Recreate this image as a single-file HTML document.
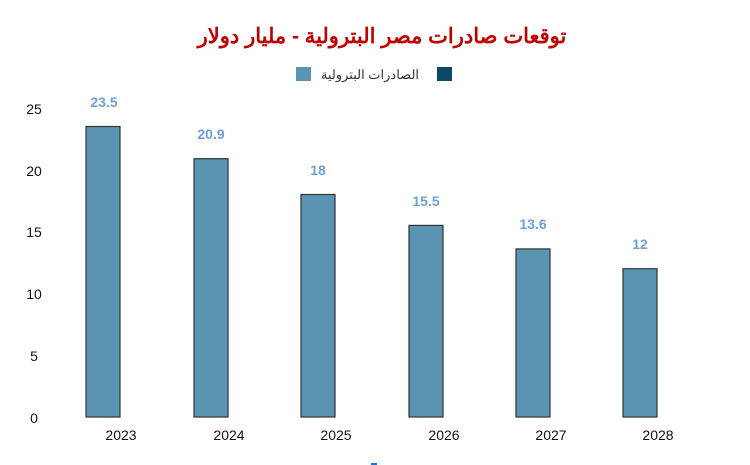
<!DOCTYPE html>
<html><head><meta charset="utf-8"><style>
html,body{margin:0;padding:0;background:#fff;width:750px;height:465px;overflow:hidden}
svg{display:block}
text{font-family:"Liberation Sans","Noto Sans CJK SC",sans-serif}
</style></head><body>
<svg width="750" height="465" viewBox="0 0 750 465" xmlns="http://www.w3.org/2000/svg">
<text x="382" y="43" text-anchor="middle" font-size="21" font-weight="bold" fill="#c00000">توقعات صادرات مصر البترولية - مليار دولار</text>
<rect x="296" y="67" width="15" height="14" fill="#5b93b2"/>
<text x="370" y="79" text-anchor="middle" font-size="13" fill="#333">الصادرات البترولية</text>
<rect x="437" y="67" width="15" height="14" fill="#0b4a67"/>
<g font-size="14" fill="#111" text-anchor="middle">
<text x="34" y="423">0</text>
<text x="34" y="361">5</text>
<text x="34" y="299">10</text>
<text x="34" y="237">15</text>
<text x="34" y="176">20</text>
<text x="34" y="114">25</text>
</g>
<g fill="#5b93b2" stroke="#333" stroke-width="1.2">
<rect x="86" y="126.5" width="34" height="290.5"/>
<rect x="194" y="158.7" width="34" height="258.3"/>
<rect x="301" y="194.5" width="34" height="222.5"/>
<rect x="409" y="225.4" width="34" height="191.6"/>
<rect x="516" y="248.9" width="34" height="168.1"/>
<rect x="623" y="268.7" width="34" height="148.3"/>
</g>
<g font-size="14" font-weight="bold" fill="#6f9fd8" text-anchor="middle">
<text x="104" y="107">23.5</text>
<text x="211" y="139">20.9</text>
<text x="318" y="175">18</text>
<text x="426" y="206">15.5</text>
<text x="533" y="229">13.6</text>
<text x="640" y="249">12</text>
</g>
<g font-size="14" fill="#111" text-anchor="middle">
<text x="121" y="440">2023</text>
<text x="229" y="440">2024</text>
<text x="336" y="440">2025</text>
<text x="444" y="440">2026</text>
<text x="551" y="440">2027</text>
<text x="658" y="440">2028</text>
</g>
<rect x="371" y="463" width="6" height="2" fill="#1a73e8"/>
</svg>
</body></html>
